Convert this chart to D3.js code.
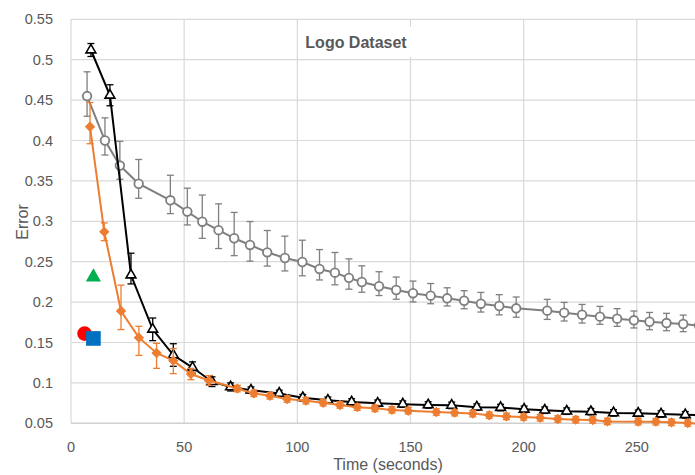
<!DOCTYPE html>
<html>
<head>
<meta charset="utf-8">
<script src="https://cdn.jsdelivr.net/npm/d3@7"></script>
<style>
  body { margin: 0; background: #fff; }
  svg { display: block; overflow: hidden; }
</style>
</head>
<body>
<div id="chart"></div>
<script>
// grey open circles
const greyT = [7.1, 15, 21.6, 29.9, 43.9, 51.4, 58, 65.2, 72.1, 79.1, 86.7, 94.5, 102.2, 109.8, 116.6, 122.8, 128.5, 136.1, 143.7, 151.1, 158.9, 166.2, 173.7, 181.1, 189.2, 196.7, 210.4, 217.9, 225.8, 233.7, 241.3, 248.7, 255.6, 263.1, 270.5, 277.5];
const greyV = [0.455, 0.400, 0.369, 0.3465, 0.326, 0.312, 0.2995, 0.289, 0.279, 0.2707, 0.2616, 0.2546, 0.2496, 0.241, 0.2364, 0.230, 0.2249, 0.2196, 0.215, 0.211, 0.208, 0.2047, 0.2017, 0.198, 0.1952, 0.1923, 0.1894, 0.1869, 0.1844, 0.182, 0.1795, 0.1775, 0.1757, 0.1741, 0.1729, 0.171];
const greyPlus = [0.030, 0.028, 0.030, 0.030, 0.031, 0.029, 0.033, 0.0326, 0.032, 0.029, 0.027, 0.027, 0.027, 0.024, 0.025, 0.0235, 0.020, 0.018, 0.016, 0.015, 0.015, 0.013, 0.0124, 0.014, 0.014, 0.014, 0.014, 0.0127, 0.0127, 0.0127, 0.0124, 0.0115, 0.0115, 0.012, 0.011, 0.011];
const greyMinus = [0.025, 0.018, 0.017, 0.018, 0.0165, 0.0165, 0.0206, 0.0227, 0.0215, 0.020, 0.017, 0.016, 0.017, 0.0136, 0.015, 0.014, 0.0127, 0.0115, 0.0115, 0.0108, 0.010, 0.0095, 0.0099, 0.0103, 0.011, 0.011, 0.0108, 0.0103, 0.0103, 0.0095, 0.0095, 0.0095, 0.0099, 0.0095, 0.0095, 0.0095];

// black open triangles
const blackT = [8.8, 17.2, 26.5, 36.1, 45.2, 53.7, 62.3, 70.5, 79.5, 92, 102.4, 113.5, 124, 135.5, 146.6, 157.8, 168.2, 179.3, 189.8, 200.2, 209.3, 219, 229.7, 239.7, 250.6, 260.7, 271.4, 282];
const blackV = [0.512, 0.456, 0.2335, 0.1663, 0.1345, 0.119, 0.1015, 0.095, 0.091, 0.087, 0.0817, 0.0785, 0.0764, 0.0748, 0.0737, 0.0727, 0.0722, 0.0700, 0.0695, 0.0673, 0.0662, 0.065, 0.0644, 0.0629, 0.0624, 0.0615, 0.0605, 0.0598];
const blackPlus = [0.008, 0.013, 0.027, 0.014, 0.014, 0.007, 0.006, 0.005, 0.004, 0.004, 0.004, 0.004, 0.004, 0.004, 0.004, 0.004, 0.004, 0.004, 0.004, 0.004, 0.004, 0.004, 0.004, 0.004, 0.004, 0.004, 0.004, 0.004];
const blackMinus = [0.008, 0.013, 0.011, 0.014, 0.014, 0.007, 0.006, 0.005, 0.004, 0.004, 0.004, 0.004, 0.004, 0.004, 0.004, 0.004, 0.004, 0.004, 0.004, 0.004, 0.004, 0.004, 0.004, 0.004, 0.004, 0.004, 0.004, 0.004];

// orange diamonds
const orangeT = [8.4, 14.7, 22.1, 30, 37.8, 45.2, 53, 61, 73.5, 80.8, 87.9, 95.5, 103.8, 111.4, 118.8, 126.5, 134.3, 141.8, 149, 161.4, 169.5, 177.5, 184.8, 192.4, 200, 207.3, 215.1, 223, 230.5, 237, 250.6, 258.4, 265.3, 272.5, 280];
const orangeV = [0.417, 0.287, 0.189, 0.156, 0.137, 0.1275, 0.111, 0.103, 0.093, 0.087, 0.084, 0.080, 0.078, 0.0755, 0.0727, 0.0700, 0.0686, 0.0666, 0.0656, 0.0640, 0.0632, 0.062, 0.060, 0.0585, 0.0578, 0.0568, 0.0553, 0.0545, 0.054, 0.0523, 0.052, 0.052, 0.0512, 0.0503, 0.049];
const orangePlus = [0.030, 0.011, 0.032, 0.014, 0.012, 0.015, 0.007, 0.006, 0.004, 0.004, 0.004, 0.004, 0.004, 0.004, 0.004, 0.004, 0.004, 0.004, 0.004, 0.004, 0.004, 0.004, 0.004, 0.004, 0.004, 0.004, 0.004, 0.004, 0.004, 0.004, 0.004, 0.004, 0.004, 0.004, 0.004];
const orangeMinus = [0.021, 0.011, 0.023, 0.022, 0.019, 0.016, 0.007, 0.006, 0.004, 0.004, 0.004, 0.004, 0.004, 0.004, 0.004, 0.004, 0.004, 0.004, 0.004, 0.004, 0.004, 0.004, 0.004, 0.004, 0.004, 0.004, 0.004, 0.004, 0.004, 0.004, 0.004, 0.004, 0.004, 0.004, 0.004];

// single reference points
const singles = [
    { t: 6.0, v: 0.161, shape: "circle", color: "#ff0000" },
    { t: 9.9, v: 0.155, shape: "square", color: "#0070c0" },
    { t: 9.9, v: 0.231, shape: "triangle", color: "#00b050" }
];

const xTicks = [0, 50, 100, 150, 200, 250, 300];
const yTicks = [0.05, 0.1, 0.15, 0.2, 0.25, 0.3, 0.35, 0.4, 0.45, 0.5, 0.55];

const width = 695, height = 475;

const svg = d3.select("#chart")
    .append("svg")
    .attr("width", width)
    .attr("height", height);

const xScale = d3.scaleLinear().domain([0, 300]).range([71, 750]);
const yScale = d3.scaleLinear().domain([0.05, 0.55]).range([423.3, 19.3]);

const textColor = "#595959";
const font = "'Liberation Sans', Arial, sans-serif";

// gridlines
svg.append("g")
    .selectAll("line")
    .data(yTicks.slice(1))
    .enter()
    .append("line")
    .attr("x1", xScale(0)).attr("x2", xScale(300))
    .attr("y1", d => yScale(d)).attr("y2", d => yScale(d))
    .attr("stroke", "#d9d9d9").attr("stroke-width", 1.2);

svg.append("g")
    .selectAll("line")
    .data(xTicks)
    .enter()
    .append("line")
    .attr("x1", d => xScale(d)).attr("x2", d => xScale(d))
    .attr("y1", yScale(0.55)).attr("y2", yScale(0.05))
    .attr("stroke", "#d9d9d9").attr("stroke-width", 1.2);

// bottom axis line
svg.append("line")
    .attr("x1", xScale(0)).attr("x2", xScale(300))
    .attr("y1", yScale(0.05)).attr("y2", yScale(0.05))
    .attr("stroke", "#d0d0d0").attr("stroke-width", 1.5);

// tick labels
svg.append("g")
    .selectAll("text")
    .data(yTicks)
    .enter()
    .append("text")
    .attr("x", 53)
    .attr("y", d => yScale(d))
    .attr("dy", "0.35em")
    .attr("text-anchor", "end")
    .style("font-family", font)
    .style("font-size", "14.5px")
    .attr("fill", textColor)
    .text(d => d);

// only the labels that fall inside the picture (300 is cut off in the original)
svg.append("g")
    .selectAll("text")
    .data(xTicks.filter(d => xScale(d) + 15 < width))
    .enter()
    .append("text")
    .attr("x", d => xScale(d))
    .attr("y", 452)
    .attr("text-anchor", "middle")
    .style("font-family", font)
    .style("font-size", "14.5px")
    .attr("fill", textColor)
    .text(d => d);

// axis titles
svg.append("text")
    .attr("x", 388)
    .attr("y", 470)
    .attr("text-anchor", "middle")
    .style("font-family", font)
    .style("font-size", "16px")
    .attr("fill", textColor)
    .text("Time (seconds)");

svg.append("text")
    .attr("transform", "rotate(-90)")
    .attr("x", -222)
    .attr("y", 28)
    .attr("text-anchor", "middle")
    .style("font-family", font)
    .style("font-size", "16px")
    .attr("fill", textColor)
    .text("Error");

// title with white box
svg.append("rect")
    .attr("x", 299).attr("y", 27)
    .attr("width", 114).attr("height", 30)
    .attr("fill", "#fff");

svg.append("text")
    .attr("x", 356)
    .attr("y", 48)
    .attr("text-anchor", "middle")
    .style("font-family", font)
    .style("font-size", "16px")
    .style("font-weight", "bold")
    .attr("fill", textColor)
    .text("Logo Dataset");

// draw one series with error bars
function drawSeries(ts, vs, plus, minus, color, lineWidth, marker) {
    const data = ts.map((t, i) => ({ t: t, v: vs[i], p: plus[i], m: minus[i] }));
    const g = svg.append("g");

    g.append("path")
        .datum(data)
        .attr("fill", "none")
        .attr("stroke", color)
        .attr("stroke-width", lineWidth)
        .attr("d", d3.line().x(d => xScale(d.t)).y(d => yScale(d.v)));

    const eb = g.append("g")
        .selectAll("g")
        .data(data)
        .enter()
        .append("g")
        .attr("stroke", color)
        .attr("stroke-width", 1.3);
    eb.append("line")
        .attr("x1", d => xScale(d.t)).attr("x2", d => xScale(d.t))
        .attr("y1", d => yScale(d.v + d.p)).attr("y2", d => yScale(d.v - d.m));
    eb.append("line")
        .attr("x1", d => xScale(d.t) - 3.5).attr("x2", d => xScale(d.t) + 3.5)
        .attr("y1", d => yScale(d.v + d.p)).attr("y2", d => yScale(d.v + d.p));
    eb.append("line")
        .attr("x1", d => xScale(d.t) - 3.5).attr("x2", d => xScale(d.t) + 3.5)
        .attr("y1", d => yScale(d.v - d.m)).attr("y2", d => yScale(d.v - d.m));

    marker(g.append("g").selectAll("path").data(data).enter());
}

drawSeries(greyT, greyV, greyPlus, greyMinus, "#7f7f7f", 2, sel => {
    sel.append("circle")
        .attr("cx", d => xScale(d.t))
        .attr("cy", d => yScale(d.v))
        .attr("r", 4.3)
        .attr("fill", "#fff")
        .attr("stroke", "#7f7f7f")
        .attr("stroke-width", 1.8);
});

drawSeries(blackT, blackV, blackPlus, blackMinus, "#000", 2, sel => {
    sel.append("path")
        .attr("d", d3.symbol(d3.symbolTriangle, 42)())
        .attr("transform", d => `translate(${xScale(d.t)},${yScale(d.v)})`)
        .attr("fill", "#fff")
        .attr("stroke", "#000")
        .attr("stroke-width", 1.6);
});

drawSeries(orangeT, orangeV, orangePlus, orangeMinus, "#ed7d31", 2, sel => {
    sel.append("path")
        .attr("d", d3.symbol(d3.symbolSquare, 40)())
        .attr("transform", d => `translate(${xScale(d.t)},${yScale(d.v)}) rotate(45)`)
        .attr("fill", "#ed7d31")
        .attr("stroke", "#ed7d31")
        .attr("stroke-width", 1);
});

// single points
const symbolType = { circle: d3.symbolCircle, square: d3.symbolSquare, triangle: d3.symbolTriangle };
const symbolSize = { circle: 170, square: 215, triangle: 100 };
svg.append("g")
    .selectAll("path")
    .data(singles)
    .enter()
    .append("path")
    .attr("d", d => d3.symbol(symbolType[d.shape], symbolSize[d.shape])())
    .attr("transform", d => `translate(${xScale(d.t)},${yScale(d.v)})`)
    .attr("fill", d => d.color);
</script>
</body>
</html>
